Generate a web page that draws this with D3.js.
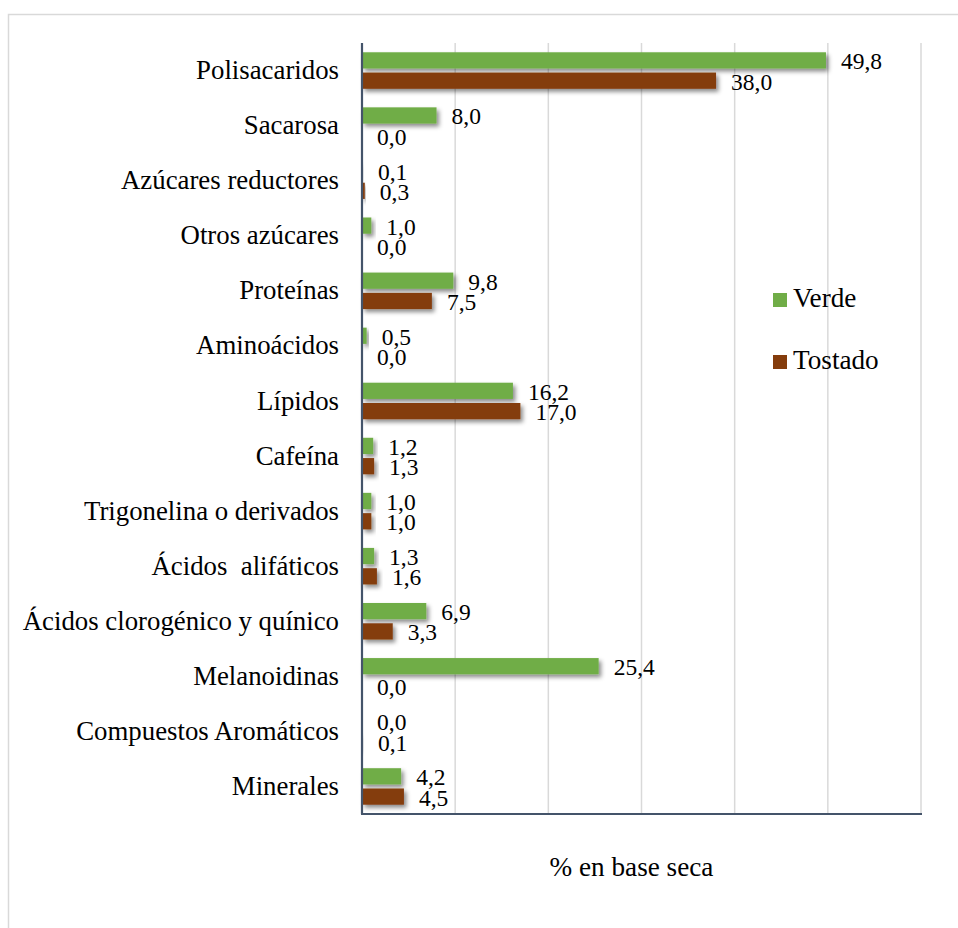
<!DOCTYPE html>
<html>
<head>
<meta charset="utf-8">
<script src="https://cdn.jsdelivr.net/npm/d3@7/dist/d3.min.js"></script>
<style>
  html, body { margin: 0; padding: 0; background: #fff; }
  svg { display: block; font-family: 'Liberation Serif', 'Times New Roman', serif; }
</style>
</head>
<body>
<svg id="chart" width="958" height="928"></svg>
<script>
// Composition of coffee (% dry basis): green vs roasted
const categories = [
  "Polisacaridos", "Sacarosa", "Azúcares reductores", "Otros azúcares",
  "Proteínas", "Aminoácidos", "Lípidos", "Cafeína",
  "Trigonelina o derivados", "Ácidos  alifáticos",
  "Ácidos clorogénico y quínico", "Melanoidinas",
  "Compuestos Aromáticos", "Minerales"
];
const verde   = [49.8, 8.0, 0.1, 1.0, 9.8, 0.5, 16.2, 1.2, 1.0, 1.3, 6.9, 25.4, 0.0, 4.2];
const tostado = [38.0, 0.0, 0.3, 0.0, 7.5, 0.0, 17.0, 1.3, 1.0, 1.6, 3.3, 0.0, 0.1, 4.5];
const seriesNames = ["Verde", "Tostado"];
const seriesColors = ["#70ad47", "#843c0c"];
const xTicks = [0, 10, 20, 30, 40, 50, 60];
const xTitle = "% en base seca";

const serif = "'Liberation Serif', 'Times New Roman', serif";
const rows = categories.map((c, i) => ({ cat: c, values: [verde[i], tostado[i]] }));

const svg = d3.select("#chart");
const plotL = 362, plotR = 921, plotT = 43, plotB = 814;

// outer chart frame
svg.append("rect")
  .attr("x", 8.5).attr("y", 14.5).attr("width", 980).attr("height", 940)
  .attr("fill", "none").attr("stroke", "#d9d9d9").attr("stroke-width", 1.5);

const x = d3.scaleLinear().domain([0, 60]).range([plotL, plotR]);
const y = d3.scaleBand().domain(categories).range([plotT, plotB])
  .paddingInner(0.337).paddingOuter(0.1685);
const ySub = d3.scaleBand().domain(seriesNames).range([0, y.bandwidth()]).paddingInner(0.2);
const color = d3.scaleOrdinal().domain(seriesNames).range(seriesColors);

// shadow under bars
const defs = svg.append("defs");
const f = defs.append("filter").attr("id", "shadow")
  .attr("x", "-20%").attr("y", "-40%").attr("width", "160%").attr("height", "200%");
f.append("feDropShadow").attr("dx", 2.5).attr("dy", 3).attr("stdDeviation", 2)
  .attr("flood-color", "#000").attr("flood-opacity", 0.45);

// vertical gridlines
svg.append("g").selectAll("line").data(xTicks.filter(t => t > 0)).join("line")
  .attr("x1", d => x(d)).attr("x2", d => x(d))
  .attr("y1", plotT).attr("y2", plotB)
  .attr("stroke", "#d9d9d9").attr("stroke-width", 1.5);

// bars
const groups = svg.append("g").selectAll("g").data(rows).join("g")
  .attr("transform", d => `translate(0,${y(d.cat)})`);

groups.selectAll("rect")
  .data(d => d.values.map((v, i) => ({ key: seriesNames[i], v })))
  .join("rect")
  .attr("x", x(0))
  .attr("y", d => ySub(d.key))
  .attr("width", d => x(d.v) - x(0))
  .attr("height", ySub.bandwidth())
  .attr("fill", d => color(d.key))
  .attr("filter", d => d.v > 0 ? "url(#shadow)" : null);

// value labels
groups.selectAll("text")
  .data(d => d.values.map((v, i) => ({ key: seriesNames[i], v })))
  .join("text")
  .attr("x", d => x(d.v) + 15)
  .attr("y", d => ySub(d.key) + ySub.bandwidth() / 2 + 9)
  .attr("font-family", serif)
  .attr("font-size", 23.5)
  .attr("fill", "#000")
  .text(d => d.v.toFixed(1).replace(".", ","));

// axes
const yAxis = svg.append("g").attr("transform", `translate(${plotL},0)`)
  .call(d3.axisLeft(y).tickSize(0).tickPadding(23));
yAxis.attr("font-family", serif);
yAxis.select(".domain").attr("stroke", "#44546a").attr("stroke-width", 2.2)
  .attr("d", `M0,${plotT}V${plotB}`);
yAxis.selectAll("text")
  .attr("font-family", serif)
  .attr("font-size", 26.8).attr("fill", "#000")
  .style("white-space", "pre");

const xAxis = svg.append("g").attr("transform", `translate(0,${plotB})`)
  .call(d3.axisBottom(x).tickValues(xTicks).tickSize(0).tickFormat(""));
xAxis.select(".domain").attr("stroke", "#44546a").attr("stroke-width", 2.2)
  .attr("d", `M${plotL - 1},0H${plotR + 1}`);

// axis title
svg.append("text")
  .attr("x", (plotL + plotR) / 2 - 10).attr("y", 876)
  .attr("text-anchor", "middle").attr("font-family", serif).attr("font-size", 27.2)
  .text(xTitle);

// legend
const legend = svg.append("g").selectAll("g").data(seriesNames).join("g")
  .attr("transform", (d, i) => `translate(773,${293 + i * 62})`);
legend.append("rect").attr("width", 14).attr("height", 14).attr("fill", d => color(d));
legend.append("text").attr("x", 20).attr("y", 14).attr("font-family", serif)
  .attr("font-size", 27.2).text(d => d);
</script>
</body>
</html>
